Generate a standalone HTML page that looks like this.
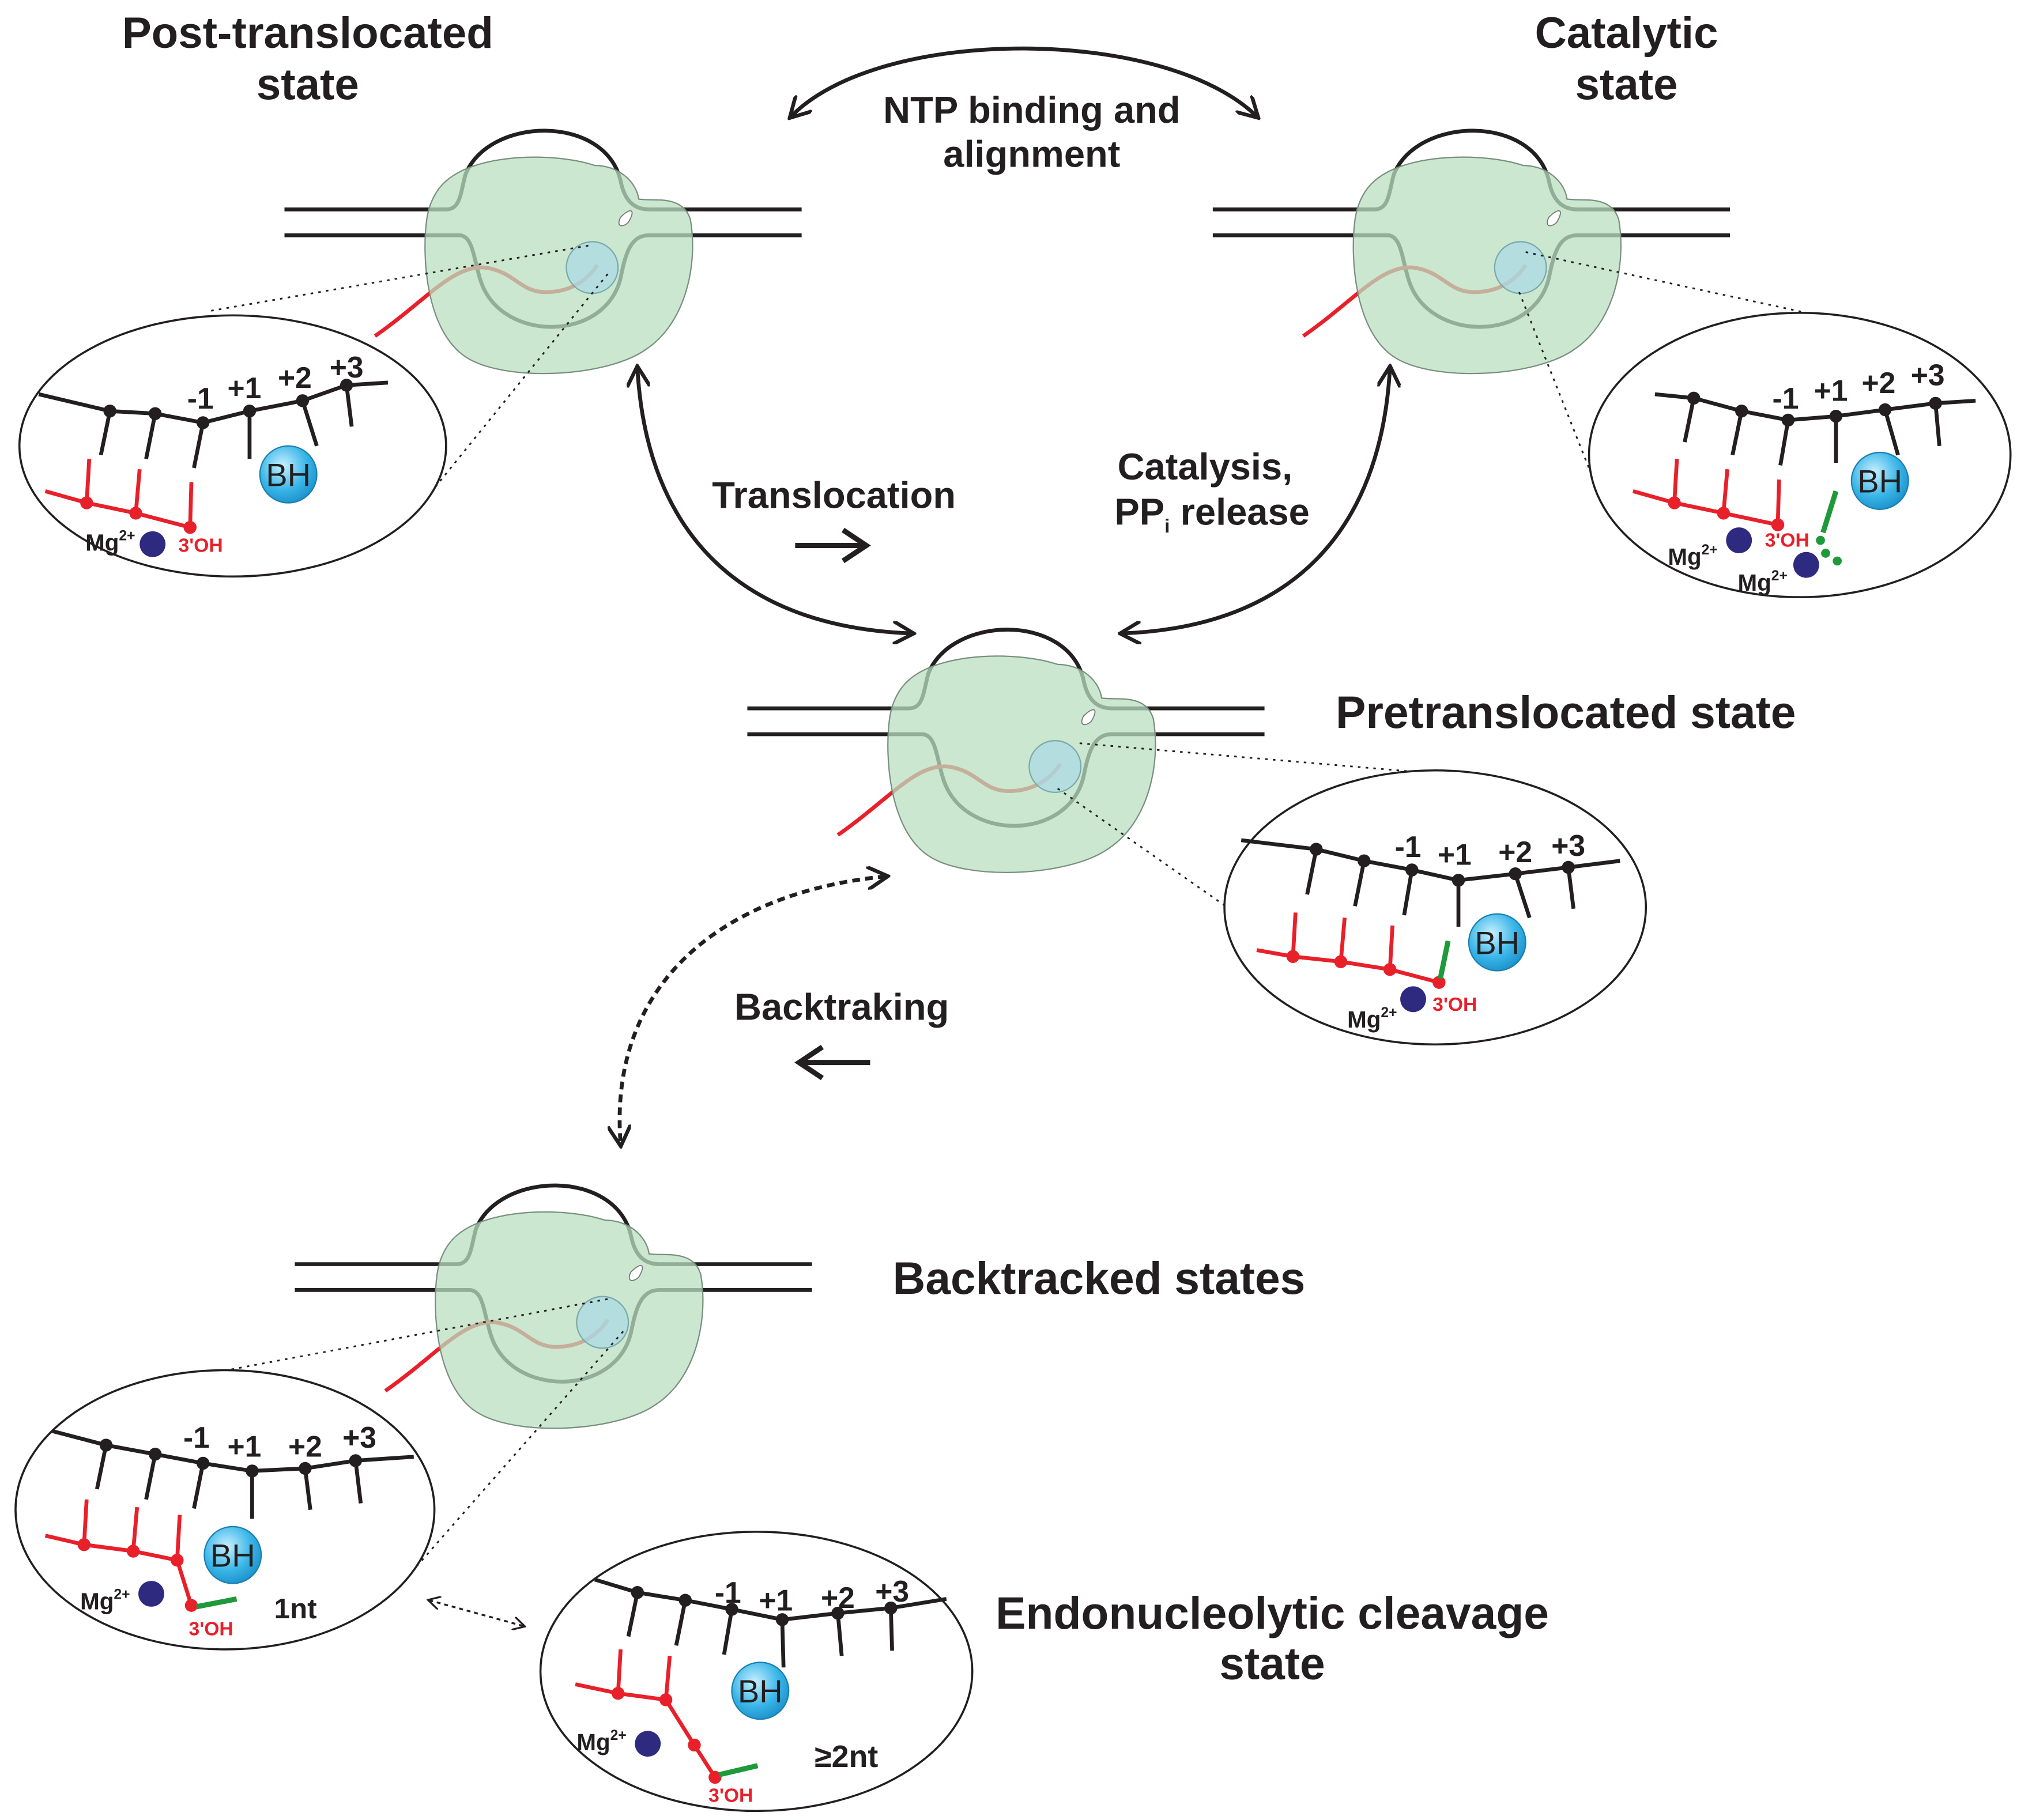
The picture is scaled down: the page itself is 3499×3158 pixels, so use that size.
<!DOCTYPE html>
<html><head><meta charset="utf-8"><style>
html,body{margin:0;padding:0;background:#fff}
svg{display:block}
text{font-family:"Liberation Sans",Arial,sans-serif;font-weight:bold;fill:#231f20}
text.bh{font-weight:normal}
</style></head><body>
<svg width="3499" height="3158" viewBox="0 0 1560 1408" xmlns="http://www.w3.org/2000/svg">
<defs>
<marker id="ah" viewBox="0 0 10 10" refX="8" refY="5" markerWidth="6" markerHeight="6" orient="auto-start-reverse">
<path d="M0,0 L9,5 L0,10" fill="none" stroke="#231f20" stroke-width="1.6"/></marker>
<marker id="ah2" viewBox="0 0 10 10" refX="8" refY="5" markerWidth="7" markerHeight="7" orient="auto-start-reverse">
<path d="M0,0 L9,5 L0,10" fill="none" stroke="#231f20" stroke-width="1.4"/></marker>
<radialGradient id="bh" cx="0.4" cy="0.35" r="0.7"><stop offset="0" stop-color="#c9f0ff"/><stop offset="0.6" stop-color="#3ab6e8"/><stop offset="1" stop-color="#1a8fc9"/></radialGradient>
<g id="pol">
<path d="M220,162 L345,162 C356,162 356,150 360,135 C378,90 468,88 480,140 C483,155 490,162 502,162 L620,162" fill="none" stroke="#231f20" stroke-width="3"/>
<path d="M220,182 L355,182 C366,182 366,200 372,218 C388,265 468,265 480,215 C484,195 488,182 502,182 L620,182" fill="none" stroke="#231f20" stroke-width="3"/>
<path d="M290,260 C330,232 350,205 375,207 C398,210 402,226 422,226 C442,226 455,216 462,205" fill="none" stroke="#e8202a" stroke-width="3"/>
<path d="M345,140 C370,118 430,118 460,128 C478,128 492,140 494,154 C505,156 528,150 534,170 C540,205 530,250 500,270 C470,292 390,296 360,276 C330,256 326,200 330,170 C332,156 338,146 345,140Z" fill="#b9dfc0" fill-opacity="0.75" stroke="#7a8f7e" stroke-width="1"/>
<path d="M480,168 C488,160 492,162 486,172 C482,176 476,176 480,168Z" fill="#fff" stroke="#777" stroke-width="0.8"/>
<circle cx="458" cy="207" r="20" fill="#a9d9e6" fill-opacity="0.7" stroke="#7aa" stroke-width="1"/>
</g>
</defs>

<!-- titles -->
<text x="238" y="37" font-size="34" text-anchor="middle">Post-translocated</text>
<text x="238" y="77" font-size="34" text-anchor="middle">state</text>
<text x="1258" y="37" font-size="34" text-anchor="middle">Catalytic</text>
<text x="1258" y="77" font-size="34" text-anchor="middle">state</text>
<text x="798" y="95" font-size="29" text-anchor="middle">NTP binding and</text>
<text x="798" y="129" font-size="29" text-anchor="middle">alignment</text>
<text x="645" y="393" font-size="29" text-anchor="middle">Translocation</text>
<text x="932" y="371" font-size="29" text-anchor="middle">Catalysis,</text>
<text x="862" y="406" font-size="29">PP<tspan font-size="15" dy="6">i</tspan><tspan dy="-6"> release</tspan></text>
<text x="1211" y="563" font-size="35" text-anchor="middle">Pretranslocated state</text>
<text x="651" y="789" font-size="29" text-anchor="middle">Backtraking</text>
<text x="850" y="1001" font-size="35" text-anchor="middle">Backtracked states</text>
<text x="984" y="1260" font-size="35" text-anchor="middle">Endonucleolytic cleavage</text>
<text x="984" y="1299" font-size="35" text-anchor="middle">state</text>

<!-- arrows -->
<path d="M612,90 C680,20 900,20 972,90" fill="none" stroke="#231f20" stroke-width="3" marker-start="url(#ah)" marker-end="url(#ah)"/>
<path d="M493,285 C500,410 570,485 705,490" fill="none" stroke="#231f20" stroke-width="3" marker-start="url(#ah)" marker-end="url(#ah)"/>
<path d="M1075,285 C1068,410 1000,485 868,490" fill="none" stroke="#231f20" stroke-width="3" marker-start="url(#ah)" marker-end="url(#ah)"/>
<path d="M685,678 C560,690 470,760 480,885" fill="none" stroke="#231f20" stroke-width="3" stroke-dasharray="6,4" marker-start="url(#ah)" marker-end="url(#ah)"/>
<path d="M332,1238 L405,1258" fill="none" stroke="#231f20" stroke-width="1.5" stroke-dasharray="3,3" marker-start="url(#ah2)" marker-end="url(#ah2)"/>
<path d="M615,422 L668,422 M652,410 L670,422 L652,434" fill="none" stroke="#231f20" stroke-width="4"/>
<path d="M673,822 L620,822 M636,810 L618,822 L636,834" fill="none" stroke="#231f20" stroke-width="4"/>

<!-- polymerases -->
<use href="#pol"/>
<use href="#pol" transform="translate(718,0)"/>
<use href="#pol" transform="translate(358,386)"/>
<use href="#pol" transform="translate(8,816)"/>

<!-- dotted connectors -->
<g stroke="#231f20" stroke-width="1.3" stroke-dasharray="2,4" fill="none">
<path d="M455,190 L160,241"/><path d="M470,212 L330,385"/>
<path d="M1180,195 L1425,248"/><path d="M1175,226 L1240,390"/>
<path d="M835,575 L1105,598"/><path d="M818,610 L975,720"/>
<path d="M470,1005 L165,1062"/><path d="M482,1030 L322,1212"/>
</g>

<!-- ellipses -->
<g fill="#fff" stroke="#231f20" stroke-width="1.6">
<ellipse cx="180" cy="345" rx="165" ry="101"/>
<ellipse cx="1392" cy="352" rx="163" ry="110"/>
<ellipse cx="1110" cy="702" rx="163" ry="106"/>
<ellipse cx="174" cy="1168" rx="162" ry="108"/>
<ellipse cx="585" cy="1293" rx="167" ry="108"/>
</g>

<!-- detail: post-translocated -->
<g stroke="#231f20" stroke-width="3" fill="none">
<path d="M30,305 L85,318 L120,320 L157,327 L193,318 L234,310 L268,298 L300,296"/>
<path d="M85,318 L78,352 M120,320 L113,355 M157,327 L150,362 M193,318 L193,355 M234,310 L245,345 M268,298 L272,330"/>
</g>
<g fill="#231f20"><circle cx="85" cy="318" r="5"/><circle cx="120" cy="320" r="5"/><circle cx="157" cy="327" r="5"/><circle cx="193" cy="318" r="5"/><circle cx="234" cy="310" r="5"/><circle cx="268" cy="298" r="5"/></g>
<text x="155" y="316" font-size="23" text-anchor="middle">-1</text><text x="189" y="308" font-size="23" text-anchor="middle">+1</text><text x="228" y="300" font-size="23" text-anchor="middle">+2</text><text x="268" y="292" font-size="23" text-anchor="middle">+3</text>
<g stroke="#e8202a" stroke-width="3" fill="none"><path d="M35,380 L67,389 L105,397 L147,408"/><path d="M67,389 L69,355 M105,397 L108,363 M147,408 L148,373"/></g>
<g fill="#e8202a"><circle cx="67" cy="389" r="5"/><circle cx="105" cy="397" r="5"/><circle cx="147" cy="408" r="5"/></g>
<circle cx="223" cy="367" r="22" fill="url(#bh)" stroke="#1a7fb0"/><text class="bh" x="223" y="376" font-size="25" text-anchor="middle">BH</text>
<text x="66" y="426" font-size="18">Mg<tspan font-size="11" dy="-8">2+</tspan></text><circle cx="118" cy="421" r="10" fill="#2e2a7f"/>
<text x="138" y="427" font-size="15" style="fill:#e8202a">3'OH</text>

<!-- detail: catalytic -->
<g stroke="#231f20" stroke-width="3" fill="none">
<path d="M1280,305 L1310,308 L1347,318 L1383,325 L1420,322 L1458,317 L1497,312 L1528,310"/>
<path d="M1310,308 L1303,342 M1347,318 L1340,352 M1383,325 L1377,360 M1420,322 L1420,358 M1458,317 L1468,352 M1497,312 L1500,345"/>
</g>
<g fill="#231f20"><circle cx="1310" cy="308" r="5"/><circle cx="1347" cy="318" r="5"/><circle cx="1383" cy="325" r="5"/><circle cx="1420" cy="322" r="5"/><circle cx="1458" cy="317" r="5"/><circle cx="1497" cy="312" r="5"/></g>
<text x="1381" y="316" font-size="23" text-anchor="middle">-1</text><text x="1416" y="310" font-size="23" text-anchor="middle">+1</text><text x="1453" y="304" font-size="23" text-anchor="middle">+2</text><text x="1491" y="298" font-size="23" text-anchor="middle">+3</text>
<g stroke="#e8202a" stroke-width="3" fill="none"><path d="M1263,380 L1295,389 L1333,397 L1375,406"/><path d="M1295,389 L1297,355 M1333,397 L1336,363 M1375,406 L1376,371"/></g>
<g fill="#e8202a"><circle cx="1295" cy="389" r="5"/><circle cx="1333" cy="397" r="5"/><circle cx="1375" cy="406" r="5"/></g>
<path d="M1420,380 L1410,412" stroke="#1e9a3a" stroke-width="4"/>
<g fill="#1e9a3a"><circle cx="1408" cy="418" r="3.5"/><circle cx="1412" cy="428" r="3.5"/><circle cx="1421" cy="434" r="3.5"/></g>
<circle cx="1454" cy="372" r="22" fill="url(#bh)" stroke="#1a7fb0"/><text class="bh" x="1454" y="381" font-size="25" text-anchor="middle">BH</text>
<text x="1290" y="437" font-size="18">Mg<tspan font-size="11" dy="-8">2+</tspan></text><circle cx="1345" cy="418" r="10" fill="#2e2a7f"/>
<text x="1344" y="457" font-size="18">Mg<tspan font-size="11" dy="-8">2+</tspan></text><circle cx="1397" cy="437" r="10" fill="#2e2a7f"/>
<text x="1365" y="423" font-size="15" style="fill:#e8202a">3'OH</text>

<!-- detail: pretranslocated -->
<g stroke="#231f20" stroke-width="3" fill="none">
<path d="M960,650 L1018,657 L1055,666 L1092,673 L1128,681 L1172,676 L1213,671 L1253,666"/>
<path d="M1018,657 L1011,692 M1055,666 L1048,701 M1092,673 L1086,708 M1128,681 L1128,717 M1172,676 L1183,710 M1213,671 L1217,703"/>
</g>
<g fill="#231f20"><circle cx="1018" cy="657" r="5"/><circle cx="1055" cy="666" r="5"/><circle cx="1092" cy="673" r="5"/><circle cx="1128" cy="681" r="5"/><circle cx="1172" cy="676" r="5"/><circle cx="1213" cy="671" r="5"/></g>
<text x="1089" y="663" font-size="23" text-anchor="middle">-1</text><text x="1125" y="669" font-size="23" text-anchor="middle">+1</text><text x="1172" y="667" font-size="23" text-anchor="middle">+2</text><text x="1213" y="662" font-size="23" text-anchor="middle">+3</text>
<g stroke="#e8202a" stroke-width="3" fill="none"><path d="M972,735 L1000,740 L1037,744 L1075,750 L1113,760"/><path d="M1000,740 L1002,706 M1037,744 L1040,710 M1075,750 L1077,716"/></g>
<g fill="#e8202a"><circle cx="1000" cy="740" r="5"/><circle cx="1037" cy="744" r="5"/><circle cx="1075" cy="750" r="5"/><circle cx="1113" cy="760" r="5"/></g>
<path d="M1120,728 L1114,757" stroke="#1e9a3a" stroke-width="4"/>
<circle cx="1158" cy="729" r="22" fill="url(#bh)" stroke="#1a7fb0"/><text class="bh" x="1158" y="738" font-size="25" text-anchor="middle">BH</text>
<text x="1042" y="795" font-size="18">Mg<tspan font-size="11" dy="-8">2+</tspan></text><circle cx="1093" cy="773" r="10" fill="#2e2a7f"/>
<text x="1108" y="782" font-size="15" style="fill:#e8202a">3'OH</text>

<!-- detail: backtracked 1nt -->
<g stroke="#231f20" stroke-width="3" fill="none">
<path d="M40,1107 L82,1118 L120,1125 L157,1132 L195,1138 L236,1136 L275,1130 L320,1127"/>
<path d="M82,1118 L75,1152 M120,1125 L113,1160 M157,1132 L150,1167 M195,1138 L195,1175 M236,1136 L240,1168 M275,1130 L279,1163"/>
</g>
<g fill="#231f20"><circle cx="82" cy="1118" r="5"/><circle cx="120" cy="1125" r="5"/><circle cx="157" cy="1132" r="5"/><circle cx="195" cy="1138" r="5"/><circle cx="236" cy="1136" r="5"/><circle cx="275" cy="1130" r="5"/></g>
<text x="152" y="1120" font-size="23" text-anchor="middle">-1</text><text x="189" y="1127" font-size="23" text-anchor="middle">+1</text><text x="236" y="1127" font-size="23" text-anchor="middle">+2</text><text x="278" y="1120" font-size="23" text-anchor="middle">+3</text>
<g stroke="#e8202a" stroke-width="3" fill="none"><path d="M35,1188 L65,1195 L103,1200 L137,1207 L148,1242"/><path d="M65,1195 L67,1160 M103,1200 L106,1166 M137,1207 L139,1172"/></g>
<g fill="#e8202a"><circle cx="65" cy="1195" r="5"/><circle cx="103" cy="1200" r="5"/><circle cx="137" cy="1207" r="5"/><circle cx="148" cy="1242" r="5"/></g>
<path d="M152,1243 L183,1237" stroke="#1e9a3a" stroke-width="4"/>
<circle cx="180" cy="1203" r="22" fill="url(#bh)" stroke="#1a7fb0"/><text class="bh" x="180" y="1212" font-size="25" text-anchor="middle">BH</text>
<text x="62" y="1245" font-size="18">Mg<tspan font-size="11" dy="-8">2+</tspan></text><circle cx="117" cy="1233" r="10" fill="#2e2a7f"/>
<text x="146" y="1265" font-size="15" style="fill:#e8202a">3'OH</text>
<text x="212" y="1252" font-size="22">1nt</text>

<!-- detail: endonucleolytic -->
<g stroke="#231f20" stroke-width="3" fill="none">
<path d="M460,1222 L493,1232 L530,1238 L566,1245 L605,1253 L648,1248 L689,1244 L732,1237"/>
<path d="M493,1232 L486,1266 M530,1238 L523,1273 M566,1245 L560,1280 M605,1253 L606,1290 M648,1248 L651,1281 M689,1244 L690,1277"/>
</g>
<g fill="#231f20"><circle cx="493" cy="1232" r="5"/><circle cx="530" cy="1238" r="5"/><circle cx="566" cy="1245" r="5"/><circle cx="605" cy="1253" r="5"/><circle cx="648" cy="1248" r="5"/><circle cx="689" cy="1244" r="5"/></g>
<text x="563" y="1240" font-size="23" text-anchor="middle">-1</text><text x="600" y="1246" font-size="23" text-anchor="middle">+1</text><text x="648" y="1244" font-size="23" text-anchor="middle">+2</text><text x="690" y="1239" font-size="23" text-anchor="middle">+3</text>
<g stroke="#e8202a" stroke-width="3" fill="none"><path d="M445,1303 L478,1310 L515,1315 L537,1350 L553,1375"/><path d="M478,1310 L480,1276 M515,1315 L518,1281"/></g>
<g fill="#e8202a"><circle cx="478" cy="1310" r="5"/><circle cx="515" cy="1315" r="5"/><circle cx="537" cy="1350" r="5"/><circle cx="553" cy="1375" r="5"/></g>
<path d="M556,1373 L586,1366" stroke="#1e9a3a" stroke-width="4"/>
<circle cx="588" cy="1308" r="22" fill="url(#bh)" stroke="#1a7fb0"/><text class="bh" x="588" y="1317" font-size="25" text-anchor="middle">BH</text>
<text x="446" y="1354" font-size="18">Mg<tspan font-size="11" dy="-8">2+</tspan></text><circle cx="501" cy="1349" r="10" fill="#2e2a7f"/>
<text x="548" y="1394" font-size="15" style="fill:#e8202a">3'OH</text>
<text x="630" y="1367" font-size="24">≥2nt</text>
</svg>
</body></html>
